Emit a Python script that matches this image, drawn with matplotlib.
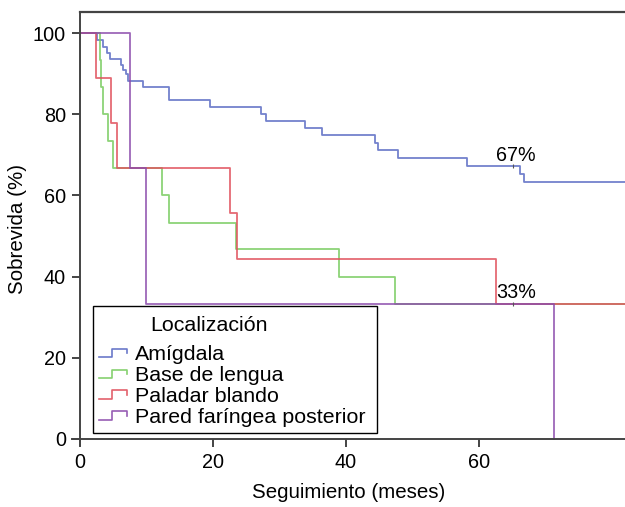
import matplotlib
matplotlib.use("Agg")
import matplotlib.pyplot as plt
from matplotlib.lines import Line2D
from matplotlib.legend_handler import HandlerLine2D

plt.rcParams['font.family'] = ['Liberation Sans', 'DejaVu Sans']

# Kaplan-Meier curves (meses, % sobrevida)
amig_t = [0, 2.5, 3.4, 4.0, 4.5, 6.2, 6.5, 6.9, 7.3, 9.5, 13.4, 19.5, 27.3, 28.0,
          33.8, 36.4, 44.4, 44.9, 47.8, 58.3, 66.2, 66.8, 85]
amig_s = [100, 98.2, 96.6, 95.1, 93.5, 92.1, 91.0, 89.9, 88.2, 86.7, 83.5, 81.7, 80.0, 78.3,
          76.7, 74.8, 73.0, 71.2, 69.3, 67.3, 65.4, 63.2, 63.2]

base_t = [0, 3.0, 3.15, 3.4, 4.2, 4.9, 12.4, 13.4, 23.5, 38.9, 47.4, 85]
base_s = [100, 93.3, 86.7, 80.0, 73.3, 66.7, 60.0, 53.3, 46.7, 40.0, 33.3, 33.3]

pal_t = [0, 2.35, 4.7, 5.6, 22.5, 23.6, 62.6, 85]
pal_s = [100, 88.9, 77.8, 66.7, 55.6, 44.4, 33.3, 33.3]

pared_t = [0, 7.55, 10.0, 71.3]
pared_s = [100, 66.7, 33.3, 0]

series = [
    ("Amígdala", amig_t, amig_s, '#5b6bc4'),
    ("Base de lengua", base_t, base_s, '#79cc60'),
    ("Paladar blando", pal_t, pal_s, '#e0505c'),
    ("Pared faríngea posterior", pared_t, pared_s, '#8c4cac'),
]

xlim = (-1.2, 82)
ylim = (-1.5, 105.2)


class StepHandler(HandlerLine2D):
    def create_artists(self, legend, orig_handle, xdescent, ydescent, width, height, fontsize, trans):
        x0, w = -xdescent, width
        y0, h = -ydescent, height
        xs = [x0, x0 + 0.45 * w, x0 + 0.45 * w, x0 + w, x0 + w]
        ys = [y0 + 0.2 * h, y0 + 0.2 * h, y0 + 0.75 * h, y0 + 0.75 * h, y0 + 0.45 * h]
        ln = Line2D(xs, ys, color=orig_handle.get_color(), lw=1.2, alpha=0.9)
        ln.set_transform(trans)
        return [ln]


fig = plt.figure(figsize=(6.25, 5.07), dpi=100)
ax = fig.add_axes([0.1152, 0.1223, 0.8848, 0.854])

handles = []
for name, t, s, c in series:
    ln, = ax.step(t, s, where='post', color=c, lw=1.3, alpha=0.85, label=name)
    handles.append(ln)

# label anchors
ax.plot([65.2], [67.3], marker='|', color='#555555', ms=3, mew=0.8)
ax.plot([65.2], [33.3], marker='|', color='#555555', ms=3, mew=0.8)
ax.text(65.6, 67.6, "67%", fontsize=14.2, ha='center', va='bottom')
ax.text(65.6, 33.8, "33%", fontsize=14.2, ha='center', va='bottom')

ax.set_xlim(*xlim)
ax.set_ylim(*ylim)
ax.set_xticks([0, 20, 40, 60])
ax.set_yticks([0, 20, 40, 60, 80, 100])

spc = '#444444'
for side in ['left', 'bottom']:
    ax.spines[side].set_position(('data', 0))
    ax.spines[side].set_color(spc)
    ax.spines[side].set_linewidth(1.4)
ax.spines['top'].set_visible(False)
ax.spines['right'].set_visible(False)
ax.axhline(ylim[1], xmin=(0 - xlim[0]) / (xlim[1] - xlim[0]), color=spc, lw=1.6, clip_on=False)

ax.tick_params(direction='out', length=6, width=1.4, color=spc, labelsize=14.3, pad=4)
ax.set_xlabel("Seguimiento (meses)", fontsize=14.8, labelpad=8)
ax.set_ylabel("Sobrevida (%)", fontsize=14.8, labelpad=4)

leg = ax.legend(handles=handles, loc='lower left', bbox_to_anchor=(0.038, 0.0277, 0.5135, 0.29),
                mode='expand', title=" ", title_fontsize=22, fontsize=15.4, frameon=True,
                fancybox=False, edgecolor='black', framealpha=1, borderpad=0.3,
                labelspacing=0.09, handlelength=1.3, handletextpad=0.37, borderaxespad=0,
                handler_map={Line2D: StepHandler()})
leg.get_frame().set_linewidth(1.0)
ax.text(0.141, 0.277, "Localización", transform=ax.transAxes, fontsize=15.4,
        va='center', ha='left', zorder=10)

fig.savefig("out.png", dpi=100)
